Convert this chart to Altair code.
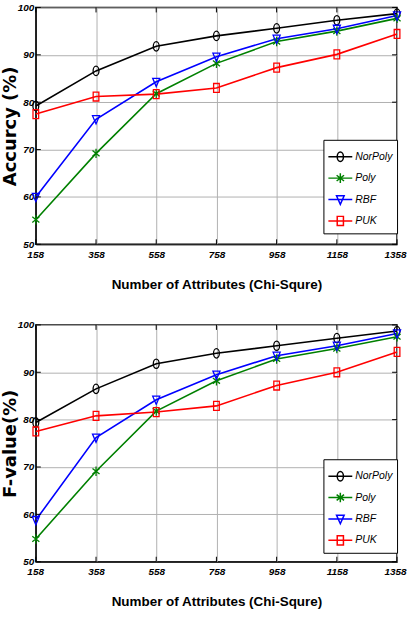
import altair as alt
import pandas as pd

# Feature counts selected by Chi-square
attributes = [158, 358, 558, 758, 958, 1158, 1358]
y_ticks = [50, 60, 70, 80, 90, 100]
models = ["NorPoly", "Poly", "RBF", "PUK"]

# Accuracy (%) per kernel
acc_norpoly = [79.2, 86.6, 91.8, 94.0, 95.6, 97.3, 98.7]
acc_poly = [55.2, 69.2, 81.8, 88.2, 92.8, 95.0, 97.7]
acc_rbf = [60.0, 76.4, 84.3, 89.6, 93.4, 95.5, 98.3]
acc_puk = [77.5, 81.2, 81.7, 83.0, 87.3, 90.1, 94.4]

# F-value (%) per kernel
f_norpoly = [79.4, 86.5, 91.8, 94.0, 95.6, 97.2, 98.7]
f_poly = [54.8, 69.1, 81.8, 88.2, 92.8, 95.0, 97.5]
f_rbf = [58.8, 76.2, 84.2, 89.5, 93.5, 95.6, 98.2]
f_puk = [77.5, 80.8, 81.6, 82.9, 87.2, 90.0, 94.3]

colors = ["#000000", "#008000", "#0000ff", "#ff0000"]

# plot markers (slightly tall, like the stretched MATLAB figure)
marker_paths = [
    "M0.62,0A0.62,1 0 1,1 -0.62,0A0.62,1 0 1,1 0.62,0Z",
    "M0,-1V1M-0.75,-0.6L0.75,0.6M-0.75,0.6L0.75,-0.6",
    "M-0.75,-0.75L0.75,-0.75L0,1Z",
    "M-0.6,-0.95H0.6V0.95H-0.6Z",
]
# legend keys: a line segment with the marker on it
legend_paths = [
    "M-1,0H1M0.26,0A0.26,0.4 0 1,1 -0.26,0A0.26,0.4 0 1,1 0.26,0Z",
    "M-1,0H1M0,-0.4V0.4M-0.31,-0.24L0.31,0.24M-0.31,0.24L0.31,-0.24",
    "M-1,0H1M-0.32,-0.32L0.32,-0.32L0,0.4Z",
    "M-1,0H1M-0.26,-0.38H0.26V0.38H-0.26Z",
]

FONT = "Liberation Sans, Arial, sans-serif"
W, H = 363, 238


def long_table(series):
    rows = []
    for name, vals in zip(models, series):
        for a, v in zip(attributes, vals):
            rows.append({"Attributes": a, "Value": v, "Model": name, "Key": name})
    return pd.DataFrame(rows)


def panel(series, y_title, legend_y):
    df = long_table(series)
    x_scale = alt.Scale(domain=[158, 1358], nice=False, zero=False)
    y_scale = alt.Scale(domain=[50, 100], nice=False, zero=False)
    x_enc = alt.X(
        "Attributes:Q",
        scale=x_scale,
        axis=alt.Axis(
            values=attributes, format="d", title="Number of Attributes (Chi-Squre)",
            ticks=False, labelPadding=5, titlePadding=18,
            labelFont=FONT, labelFontSize=10, labelFontStyle="italic", labelFontWeight="bold",
            titleFont=FONT, titleFontSize=13.5, titleFontWeight="bold",
            labelColor="#000", titleColor="#000", domainColor="#000",
            gridColor="#b0b0b0", gridWidth=1, labelFlush=True, labelFlushOffset=9,
        ),
    )
    y_enc = alt.Y(
        "Value:Q",
        scale=y_scale,
        axis=alt.Axis(
            values=y_ticks, format="d", title=y_title, ticks=False,
            labelPadding=2, titlePadding=-2,
            labelFont=FONT, labelFontSize=10, labelFontStyle="italic", labelFontWeight="bold",
            titleFont="DejaVu Sans", titleFontSize=18, titleFontWeight="bold",
            labelColor="#000", titleColor="#000", domainColor="#000",
            gridColor="#b0b0b0", gridWidth=1,
        ),
    )
    base = alt.Chart(df)
    lines = base.mark_line(strokeWidth=1.6).encode(
        x=x_enc, y=y_enc,
        color=alt.Color("Model:N", scale=alt.Scale(domain=models, range=colors), legend=None),
    )
    points = base.mark_point(filled=False, strokeWidth=1.3, size=90, opacity=1).encode(
        x=x_enc, y=y_enc,
        color=alt.Color("Model:N", scale=alt.Scale(domain=models, range=colors), legend=None),
        shape=alt.Shape("Model:N", scale=alt.Scale(domain=models, range=marker_paths), legend=None),
    )
    leg = alt.Legend(
        title=None, orient="none", legendX=289, legendY=legend_y,
        strokeColor="#000", fillColor="#fff", padding=4, cornerRadius=0,
        symbolSize=576, symbolStrokeWidth=1.5, symbolOpacity=1, rowPadding=0.5,
        labelFont=FONT, labelFontSize=10.5, labelFontStyle="italic", labelColor="#000",
        labelOffset=2,
    )
    keys = base.mark_point(filled=False, opacity=0).encode(
        x=x_enc, y=y_enc,
        color=alt.Color("Key:N", scale=alt.Scale(domain=models, range=colors), legend=leg),
        shape=alt.Shape("Key:N", scale=alt.Scale(domain=models, range=legend_paths), legend=leg),
    )
    tick_x = pd.DataFrame({"Attributes": attributes})
    tick_y = pd.DataFrame({"Value": y_ticks})
    tx = alt.X("Attributes:Q", scale=x_scale)
    ty = alt.Y("Value:Q", scale=y_scale)
    top_ticks = alt.Chart(tick_x).mark_rule(color="#000").encode(x=tx, y=alt.value(0), y2=alt.value(5))
    bot_ticks = alt.Chart(tick_x).mark_rule(color="#000").encode(x=tx, y=alt.value(H - 5), y2=alt.value(H))
    left_ticks = alt.Chart(tick_y).mark_rule(color="#000").encode(y=ty, x=alt.value(0), x2=alt.value(5))
    right_ticks = alt.Chart(tick_y).mark_rule(color="#000").encode(y=ty, x=alt.value(W - 5), x2=alt.value(W))
    return (
        alt.layer(lines, points, keys, top_ticks, bot_ticks, left_ticks, right_ticks)
        .resolve_scale(color="independent", shape="independent")
        .properties(width=W, height=H)
    )


top = panel([acc_norpoly, acc_poly, acc_rbf, acc_puk], "Accurcy (%)", 133)
bottom = panel([f_norpoly, f_poly, f_rbf, f_puk], "F-value(%)", 135)

chart = (
    alt.vconcat(top, bottom, spacing=81, bounds="flush")
    .properties(padding={"left": 0, "top": 0, "right": 0, "bottom": 0}, background="#ffffff")
    .configure_view(stroke="#000", strokeWidth=1.5)
)

chart.save("out.html", embed_options={"renderer": "svg", "actions": False})
